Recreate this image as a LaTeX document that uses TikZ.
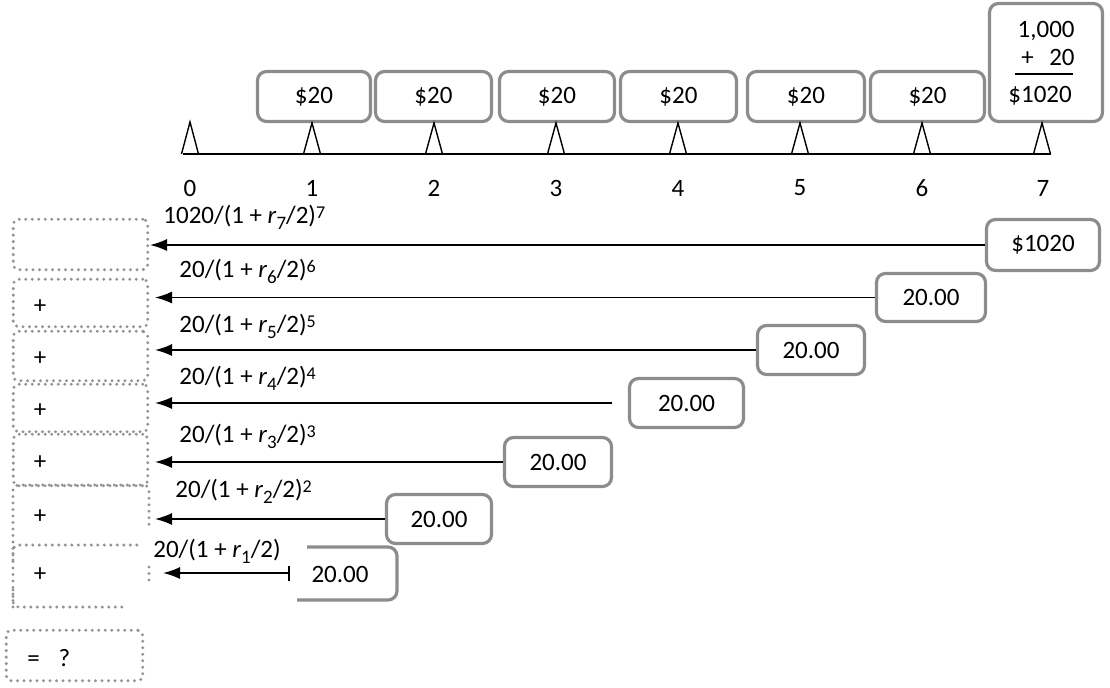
\documentclass[tikz,border=0pt]{standalone}
\usepackage{fontspec}
\setmainfont{Carlito}
\usetikzlibrary{arrows.meta}

\newlength{\du}
\setlength{\du}{0.5pt}
\definecolor{boxgray}{rgb}{0.550000, 0.550000, 0.550000}
\definecolor{dotgray}{rgb}{0.580000, 0.580000, 0.580000}
\newcommand{\rsub}[1]{\raisebox{-3pt}{\fontsize{9.5}{10}\selectfont #1}}
\newcommand{\rexp}[1]{\raisebox{2.5pt}{\fontsize{9}{10}\selectfont #1}}

\tikzset{
  paybox/.style={draw=boxgray, line width=3.2\du, rounded corners=9\du, inner sep=0pt},
  sumbox/.style={draw=dotgray, line width=3.3\du, dash pattern=on 0pt off 6.5\du, line cap=round, rounded corners=5\du, inner sep=0pt},
  pvarrow/.style={draw=black, line width=1.6\du, -{Latex[length=8.5pt,width=6pt]}},
  rate/.style={anchor=base west, inner sep=0pt},
  tick/.style={draw=black, line width=1.4\du},
}

\begin{document}
\begin{tikzpicture}[x=\du, y=-\du, font=\fontsize{12.5}{15}\selectfont]
\useasboundingbox (0,0) rectangle (1110,687);

% cash flows on the time line
\node[paybox, minimum width=113\du, minimum height=50\du] (p1) at (314,96.5) {\$20};
\node[paybox, minimum width=116\du, minimum height=50\du] (p2) at (433.5,96.5) {\$20};
\node[paybox, minimum width=115\du, minimum height=50\du] (p3) at (557,96.5) {\$20};
\node[paybox, minimum width=116\du, minimum height=50\du] (p4) at (678.5,96.5) {\$20};
\node[paybox, minimum width=117\du, minimum height=50\du] (p5) at (806,96.5) {\$20};
\node[paybox, minimum width=114\du, minimum height=50\du] (p6) at (927.5,96.5) {\$20};
\node[paybox, minimum width=113\du, minimum height=118\du] (p7) at (1046,62.5) {};
\node[anchor=base east, inner sep=0pt] (p7a) at (1075,37) {1,000};
\node[anchor=base west, inner sep=0pt] (p7b) at (1021,65) {+};
\node[anchor=base east, inner sep=0pt] (p7c) at (1075,65) {20};
\draw[line width=1.6\du] (1015,74) -- (1073,74);
\node[anchor=base west, inner sep=0pt] (p7d) at (1008,102) {\$1020};

% time line
\draw[line width=1.6\du] (183,154) -- (1051,154);
\draw[tick] (181.5,154) -- (190,122) -- (198.5,154);
\draw[tick] (303.5,154) -- (312,123) -- (320.5,154);
\draw[tick] (425.5,154) -- (434,123) -- (442.5,154);
\draw[tick] (547.5,154) -- (556,123) -- (564.5,154);
\draw[tick] (669.5,154) -- (678,123) -- (686.5,154);
\draw[tick] (791.5,154) -- (800,123) -- (808.5,154);
\draw[tick] (913.5,154) -- (922,123) -- (930.5,154);
\draw[tick] (1033.5,154) -- (1042,123) -- (1050.5,154);
\node (n0) at (190,188) {0};
\node (n1) at (312,188) {1};
\node (n2) at (434,188) {2};
\node (n3) at (556,188) {3};
\node (n4) at (678,188) {4};
\node (n5) at (800,188) {5};
\node (n6) at (922,188) {6};
\node (n7) at (1043,188) {7};

% discounted values
\node[paybox, minimum width=113\du, minimum height=51\du] (r7) at (1043,245) {\$1020};
\node[paybox, minimum width=109\du, minimum height=48\du] (r6) at (931,297.5) {20.00};
\node[paybox, minimum width=107\du, minimum height=49\du] (r5) at (811,350) {20.00};
\node[paybox, minimum width=114\du, minimum height=49\du] (r4) at (686.5,403) {20.00};
\node[paybox, minimum width=107\du, minimum height=49\du] (r3) at (558,462) {20.00};
\node[paybox, minimum width=105\du, minimum height=49\du] (r2) at (439,519) {20.00};
\node[inner sep=0pt] (r1) at (340,574) {20.00};
\draw[draw=boxgray, line width=3.2\du, rounded corners=9\du] (307,547) -- (397,547) -- (397,600) -- (297,600);

% sum column
\node[sumbox, minimum width=134.5\du, minimum height=50.5\du] (s7) at (80.5,244.5) {};
\node[sumbox, minimum width=134.5\du, minimum height=47.5\du] (s6) at (80.5,303) {};
\node[sumbox, minimum width=134.5\du, minimum height=49.5\du] (s5) at (80.5,356) {};
\node[sumbox, minimum width=134.5\du, minimum height=47.5\du] (s4) at (80.5,408) {};
\node[sumbox, minimum width=134.5\du, minimum height=51.5\du] (s3) at (80.5,460) {};
\draw[sumbox] (13,607) -- (13,485) -- (149,485) -- (149,528);
\draw[sumbox] (13,560) -- (13,545) -- (140,545);
\draw[sumbox] (13,590) -- (13,607) -- (122,607);
\draw[sumbox] (149,567) -- (149,582);
\node[sumbox, minimum width=136.5\du, minimum height=50.5\du] (eq) at (74.5,655.5) {};
\node[anchor=west, inner sep=0pt] (eqtxt) at (27,658) {=\hspace{0.75em}?};

\node (plus6) at (40,307) {+};
\node (plus5) at (40,359) {+};
\node (plus4) at (40,411) {+};
\node (plus3) at (40,463) {+};
\node (plus2) at (40,517) {+};
\node (plus1) at (40,575) {+};

% arrow tips
\coordinate (tip7) at (150,0);
\coordinate (tip) at (155,0);
\coordinate (h1) at (290,573);
\coordinate (e1) at (163,573);
\coordinate (r4tail) at (612,403);

% present value arrows
\draw[pvarrow] (r7.west) -- (r7.west -| tip7);
\draw[pvarrow] (r6.west) -- (r6.west -| tip);
\draw[pvarrow] (r5.west) -- (r5.west -| tip);
\draw[pvarrow] (r4tail) -- (r4tail -| tip);
\draw[pvarrow] (r3.west) -- (r3.west -| tip);
\draw[pvarrow] (r2.west) -- (r2.west -| tip);
\draw[pvarrow, {Bar[width=7.5pt]}-{Latex[length=8.5pt,width=6pt]}] (h1) -- (e1);

\node[rate] (L7) at (163,223) {1020/(1 + \textit{r}\rsub{7}/2)\rexp{7}};
\node[rate] (L6) at (179,277) {20/(1 + \textit{r}\rsub{6}/2)\rexp{6}};
\node[rate] (L5) at (179,332) {20/(1 + \textit{r}\rsub{5}/2)\rexp{5}};
\node[rate] (L4) at (179,384) {20/(1 + \textit{r}\rsub{4}/2)\rexp{4}};
\node[rate] (L3) at (179,442) {20/(1 + \textit{r}\rsub{3}/2)\rexp{3}};
\node[rate] (L2) at (175,497) {20/(1 + \textit{r}\rsub{2}/2)\rexp{2}};
\node[rate] (L1) at (153,557) {20/(1 + \textit{r}\rsub{1}/2)};
\end{tikzpicture}
\end{document}
